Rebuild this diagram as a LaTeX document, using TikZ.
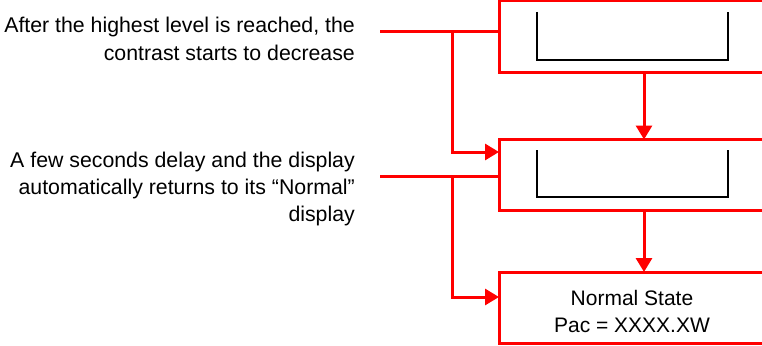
\documentclass[tikz,border=0pt]{standalone}
\usepackage{fontspec}
\setmainfont{Liberation Sans}
\usetikzlibrary{arrows.meta}
\begin{document}
\begin{tikzpicture}[x=1pt,y=-1pt,
  redline/.style={draw=red,line width=3pt},
  arr/.style={redline,-{Triangle[length=14pt,width=16pt]}},
  statebox/.style={draw=red,line width=3pt,minimum width=266pt,minimum height=71pt,inner sep=0pt,outer sep=0pt},
  bracket/.style={draw=black,line width=2pt},
  txt/.style={font=\fontsize{21}{27}\selectfont,inner sep=0pt},
  ltxt/.style={font=\fontsize{21.3}{27}\selectfont,inner sep=0pt,anchor=base east}]
\useasboundingbox (0,0) rectangle (762,345);
\clip (0,0) rectangle (762,345);
% boxes
\node[statebox] (box1) at (632,36.5) {};
\node[statebox] (box2) at (632,175) {};
\node[statebox] (box3) at (632,307.5) {};
\node[txt,anchor=base] (n1) at (632,305) {Normal State};
\node[txt,anchor=base] (n2) at (632,332) {Pac = XXXX.XW};
% brackets
\draw[bracket] (537,12) -- (537,60) -- (728,60) -- (728,12);
\draw[bracket] (537,150) -- (537,197) -- (728,197) -- (728,150);
% vertical arrows
\coordinate (vx) at (644,0);
\draw[arr] (box1.south -| vx) -- (box2.north -| vx);
\draw[arr] (box2.south -| vx) -- (box3.north -| vx);
% left lines
\coordinate (s1) at (380,32);
\coordinate (s2) at (380,176);
\coordinate (j1) at (452,32);
\coordinate (j2) at (452,176);
\coordinate (e1) at (0,152);
\coordinate (e2) at (0,297);
\draw[redline] (s1) -- (s1 -| box1.west);
\draw[redline] (s2) -- (s2 -| box2.west);
\draw[arr] (j1) |- (box2.west |- e1);
\draw[arr] (j2) |- (box3.west |- e2);
% texts
\node[ltxt] (a1) at (355,33) {After the highest level is reached, the};
\node[ltxt] (a2) at (355,60) {contrast starts to decrease};
\node[ltxt] (b1) at (355,167) {A few seconds delay and the display};
\node[ltxt] (b2) at (355,194) {automatically returns to its “Normal”};
\node[ltxt] (b3) at (355,221) {display};
\end{tikzpicture}
\end{document}
